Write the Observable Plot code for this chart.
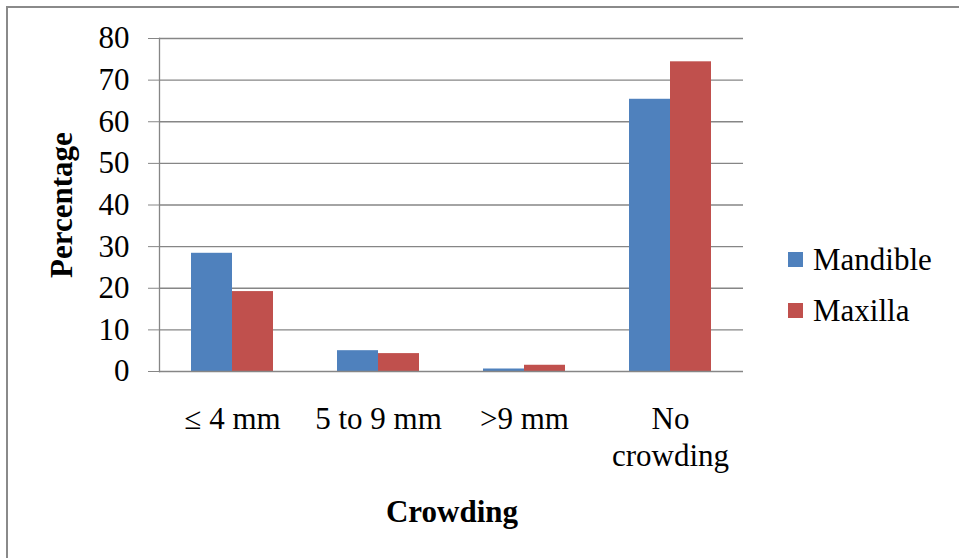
<!DOCTYPE html>
<html>
<head>
<meta charset="utf-8">
<script src="https://cdn.jsdelivr.net/npm/d3@7"></script>
<script src="https://cdn.jsdelivr.net/npm/@observablehq/plot@0.6"></script>
<style>
  html, body { margin: 0; padding: 0; background: #fff; overflow: hidden; }
  #wrap { position: relative; width: 959px; height: 558px; overflow: hidden; font-family: "Liberation Serif", "Times New Roman", serif; }
  #border { position: absolute; left: 6px; top: 6px; width: 1000px; height: 600px; border: 2px solid #8a8a8a; box-sizing: border-box; }
  #chart { position: absolute; left: 0; top: 0; }
  .ytitle { position: absolute; left: 62px; top: 205px; transform: translate(-50%, -50%) rotate(-90deg); font-weight: bold; font-size: 31px; white-space: nowrap; font-family: "Liberation Serif", serif; }
  .xtitle { position: absolute; left: 452px; top: 512px; transform: translate(-50%, -50%); font-weight: bold; font-size: 31px; white-space: nowrap; font-family: "Liberation Serif", serif; }
  .legend { position: absolute; left: 788px; font-size: 31px; line-height: 1; white-space: nowrap; font-family: "Liberation Serif", serif; }
  .legend .sw { display: inline-block; width: 15px; height: 15px; margin-right: 10px; vertical-align: middle; position: relative; top: -3px; }
</style>
</head>
<body>
<div id="wrap">
  <div id="border"></div>
  <div id="chart"></div>
  <div class="ytitle">Percentage</div>
  <div class="xtitle">Crowding</div>
  <div id="legend"></div>
</div>
<script>
const categories = ["≤ 4 mm", "5 to 9 mm", ">9 mm", "No\ncrowding"];
const seriesNames = ["Mandible", "Maxilla"];
const mandible = [28.4, 5.0, 0.6, 65.4];
const maxilla = [19.2, 4.3, 1.5, 74.4];
const colors = ["#4F81BD", "#C0504D"];
const yTicks = [0, 10, 20, 30, 40, 50, 60, 70, 80];

const data = [];
categories.forEach((c, i) => {
  data.push({category: c, series: seriesNames[0], value: mandible[i]});
  data.push({category: c, series: seriesNames[1], value: maxilla[i]});
});

const grid = "#868686";
const plot = Plot.plot({
  width: 959,
  height: 558,
  marginLeft: 157,
  marginRight: 215,
  marginTop: 38,
  marginBottom: 187,
  style: {fontFamily: "'Liberation Serif', 'Times New Roman', serif", fontSize: "31px", color: "#000", background: "transparent"},
  fx: {domain: categories, padding: 0, label: null},
  x: {domain: seriesNames, paddingInner: 0, paddingOuter: 0.747, axis: null},
  y: {domain: [0, 80], label: null},
  color: {domain: seriesNames, range: colors},
  marks: [
    Plot.ruleY(yTicks.filter(d => d > 0), {stroke: grid, strokeWidth: 1.3}),
    Plot.barY(data, {fx: "category", x: "series", y: "value", fill: "series"}),
    Plot.ruleY([0], {stroke: grid, strokeWidth: 1.5}),
    Plot.frame({anchor: "left", facetAnchor: "left", stroke: grid, strokeWidth: 1.3}),
    Plot.axisY({ticks: yTicks, tickSize: 11, tickPadding: 19, fontSize: 31, label: null, stroke: grid, color: "#000"}),
    Plot.axisFx({anchor: "bottom", tickSize: 0, tickPadding: 31, fontSize: 31, lineHeight: 1.2, label: null})
  ]
});
document.getElementById("chart").appendChild(plot);

const legend = document.getElementById("legend");
const legendTops = [244, 295];
seriesNames.forEach((s, i) => {
  const d = document.createElement("div");
  d.className = "legend";
  d.style.top = legendTops[i] + "px";
  d.innerHTML = `<span class="sw" style="background:${colors[i]}"></span>${s}`;
  legend.appendChild(d);
});
</script>
</body>
</html>
